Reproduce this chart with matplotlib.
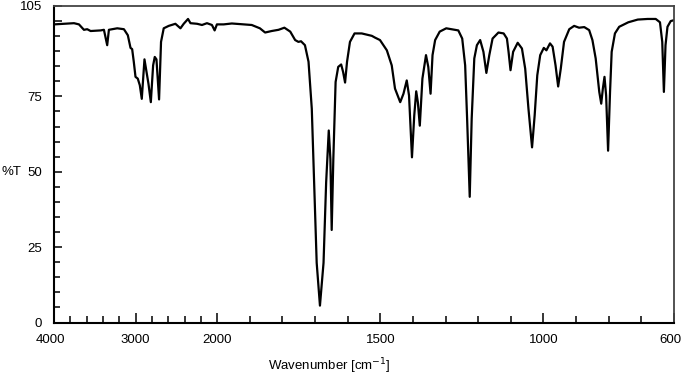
import numpy as np
import matplotlib
matplotlib.use("Agg")
import matplotlib.pyplot as plt
import matplotlib.transforms as mtransforms
from matplotlib.ticker import FixedLocator, FixedFormatter

plt.rcParams['font.family'] = ['Liberation Sans', 'DejaVu Sans']

# Spectrum data (wavenumber cm-1, %T)
wavenumber = [4000, 3755, 3694, 3633, 3593, 3551, 3429, 3388, 3348, 3327, 3225, 3143,
              3095, 3062, 3042, 3022, 3001, 2973, 2948, 2924, 2891, 2859, 2842, 2813,
              2785, 2765, 2744, 2712, 2688, 2655, 2594, 2512, 2450, 2410, 2357, 2327,
              2246, 2186, 2125, 2064, 2031, 2003, 1980, 1955, 1894, 1869, 1853, 1833,
              1812, 1794, 1776, 1761, 1751, 1743, 1731, 1720, 1710, 1702, 1695, 1685,
              1674, 1666, 1658, 1653, 1649, 1644, 1637, 1629, 1620, 1614, 1608, 1602,
              1593, 1579, 1557, 1526, 1516, 1501, 1480, 1465, 1455, 1439, 1429, 1419,
              1412, 1403, 1396, 1390, 1385, 1379, 1371, 1360, 1353, 1346, 1340, 1332,
              1318, 1298, 1271, 1261, 1249, 1240, 1234, 1226, 1220, 1212, 1204, 1194,
              1184, 1175, 1166, 1156, 1138, 1122, 1112, 1107, 1101, 1093, 1079, 1066,
              1056, 1046, 1035, 1027, 1019, 1010, 999, 991, 980, 972, 963, 955, 947,
              937, 921, 906, 891, 875, 860, 850, 840, 829, 823, 818, 813, 808, 802,
              796, 791, 781, 768, 753, 740, 711, 681, 656, 643, 636, 631, 626, 620,
              610, 600]
transmittance = [98.9, 99.3, 98.9, 97.1, 97.3, 96.7, 96.9, 97.1, 92.0, 97.1, 97.6, 97.3,
                 95.3, 91.1, 90.7, 86.5, 81.5, 80.9, 78.7, 74.2, 87.3, 82.0, 79.2, 73.1,
                 85.3, 88.1, 87.3, 74.0, 93.1, 97.6, 98.4, 99.1, 97.6, 99.1, 100.7, 99.3,
                 99.1, 98.7, 99.3, 98.7, 96.9, 98.9, 98.9, 99.2, 98.7, 97.6, 96.2, 96.7,
                 97.1, 97.8, 96.5, 93.7, 93.1, 93.3, 92.0, 86.5, 70.9, 43.1, 19.8, 5.6,
                 19.8, 46.5, 63.7, 54.2, 30.7, 54.2, 79.8, 84.8, 85.6, 83.1, 79.6, 86.5,
                 93.1, 95.9, 95.9, 95.1, 94.5, 93.7, 90.3, 85.3, 77.6, 73.1, 75.9, 80.3,
                 75.3, 54.8, 68.7, 76.7, 73.1, 65.3, 80.9, 88.7, 84.8, 75.9, 88.7, 93.7,
                 96.5, 97.6, 97.1, 96.9, 94.2, 85.3, 67.6, 41.7, 67.6, 87.6, 92.0, 93.7,
                 89.8, 82.8, 88.7, 94.2, 96.2, 95.9, 94.2, 89.8, 83.7, 89.8, 92.8, 90.9,
                 84.2, 70.9, 58.1, 68.7, 82.0, 88.7, 91.1, 90.3, 92.6, 91.5, 85.3, 78.3, 84.2,
                 93.1, 97.3, 98.4, 97.8, 98.0, 97.0, 93.7, 87.6, 76.5, 72.6, 77.6, 81.5, 75.3, 57.0,
                 76.5, 89.8, 95.9, 98.1, 98.9, 99.6, 100.5, 100.7, 100.7, 99.6, 93.1, 76.5, 92.0, 98.1,
                 100.0, 100.3]

x_minor_ticks = [3800, 3600, 3400, 3200, 2800, 2600, 2400, 2200,
                 1900, 1800, 1700, 1600, 1400, 1300, 1200, 1100, 900, 800, 700]
x_label_ticks = [4000, 3000, 2000, 1500, 1000, 600]
y_major_ticks = [0, 25, 50, 75, 100, 105]
y_major_labels = ['0', '25', '50', '75', '', '105']
y_minor_ticks = [5, 10, 15, 20, 30, 35, 40, 45, 55, 60, 65, 70, 80, 85, 90, 95]


def fwd(w):
    w = np.asarray(w, dtype=float)
    return np.where(w > 2000, 2000 + (w - 2000) / 4.0, w)


def inv(u):
    u = np.asarray(u, dtype=float)
    return np.where(u > 2000, 2000 + (u - 2000) * 4.0, u)


fig = plt.figure(figsize=(6.83, 3.76), dpi=100)
ax = fig.add_axes([54 / 683, 53.5 / 376, 620 / 683, 316.5 / 376])
ax.set_xscale('function', functions=(fwd, inv))
ax.plot(wavenumber, transmittance, color='black', lw=1.6, solid_joinstyle='round')
ax.set_xlim(4000, 600)
ax.set_ylim(0, 105)

ax.xaxis.set_major_locator(FixedLocator(x_label_ticks))
ax.xaxis.set_major_formatter(FixedFormatter([str(v) for v in x_label_ticks]))
ax.xaxis.set_minor_locator(FixedLocator(x_minor_ticks))
ax.tick_params(axis='x', which='major', direction='in', length=7.2, width=1.1,
               labelsize=9.5, pad=8, color='black')
ax.tick_params(axis='x', which='minor', direction='in', length=4.8, width=1.1)

ax.yaxis.set_major_locator(FixedLocator(y_major_ticks))
ax.yaxis.set_major_formatter(FixedFormatter(y_major_labels))
ax.yaxis.set_minor_locator(FixedLocator(y_minor_ticks))
ax.tick_params(axis='y', which='major', direction='in', length=6.0, width=1.1,
               labelsize=9.5, pad=8.5)
ax.tick_params(axis='y', which='minor', direction='in', length=4.3, width=1.1)

for s in ['left', 'bottom']:
    ax.spines[s].set_linewidth(1.5)
    ax.spines[s].set_color('black')
for s in ['top', 'right']:
    ax.spines[s].set_linewidth(1.3)
    ax.spines[s].set_color('#444444')

# shift end labels slightly left, as in the reference
fig.canvas.draw()
shift = mtransforms.ScaledTranslation(-4 / 100, 0, fig.dpi_scale_trans)
for lbl in ax.get_xticklabels():
    if lbl.get_text() in ('4000', '600'):
        lbl.set_transform(lbl.get_transform() + shift)

ax.set_xlabel('Wavenumber [cm$^{-1}$]', fontsize=9.5)
ax.xaxis.set_label_coords((329 - 54) / 620, -(366 - 322.5) / 316.5)
ax.xaxis.label.set_va('center')

ax.set_ylabel('%T', rotation=0, fontsize=9.5, ha='left', va='center')
ax.yaxis.set_label_coords((2 - 54) / 620, (322.5 - 171.7) / 316.5)

fig.savefig('out.png', dpi=100)
